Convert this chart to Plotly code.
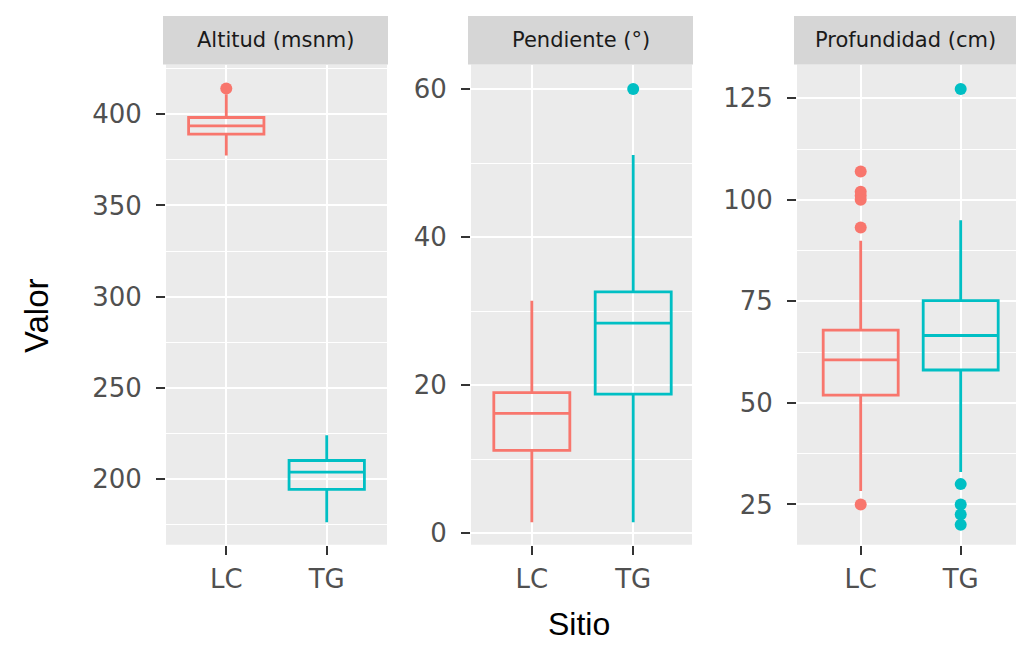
import plotly.graph_objects as go

# Box statistics per facet (LC, TG)
sites = ["LC", "TG"]
colors = ["#F8766D", "#00BFC4"]

facets = ["Altitud (msnm)", "Pendiente (°)", "Profundidad (cm)"]

alt_q1 = [389.1, 194.4]
alt_med = [393.6, 203.8]
alt_q3 = [398.2, 210.2]
alt_lo = [377.4, 176.3]
alt_hi = [410.9, 224.1]
alt_out = [[414.1], []]

pen_q1 = [11.2, 18.8]
pen_med = [16.2, 28.4]
pen_q3 = [19.0, 32.6]
pen_lo = [1.5, 1.5]
pen_hi = [31.4, 51.1]
pen_out = [[], [60.0]]

pro_q1 = [51.9, 58.1]
pro_med = [60.6, 66.6]
pro_q3 = [67.9, 75.2]
pro_lo = [28.3, 33.0]
pro_hi = [89.9, 95.0]
pro_out = [[107.0, 102.0, 101.0, 100.0, 93.2, 25.0], [127.3, 30.0, 25.0, 22.5, 20.0]]

y_ticks = [[200, 250, 300, 350, 400], [0, 20, 40, 60], [25, 50, 75, 100, 125]]
y_ranges = [[164.1, 427.2], [-1.52, 63.3], [15.1, 133.3]]
y_minor = [25, 10, 12.5]

W, H = 1016, 650
panel_x = [(166, 387), (471, 692), (797, 1016)]
x_ranges = [[-0.6, 1.6], [-0.6, 1.58], [-0.637, 1.553]]
panel_top, panel_bot = 65, 548
strip_top = 16

stats = [
    (alt_q1, alt_med, alt_q3, alt_lo, alt_hi, alt_out),
    (pen_q1, pen_med, pen_q3, pen_lo, pen_hi, pen_out),
    (pro_q1, pro_med, pro_q3, pro_lo, pro_hi, pro_out),
]

fig = go.Figure()
tick_font = dict(family="DejaVu Sans", size=26, color="#505050")

for k, (q1, med, q3, lo, hi, out) in enumerate(stats):
    xa = "x" if k == 0 else f"x{k + 1}"
    ya = "y" if k == 0 else f"y{k + 1}"
    for i, s in enumerate(sites):
        fig.add_trace(go.Box(
            x=[s], q1=[q1[i]], median=[med[i]], q3=[q3[i]],
            lowerfence=[lo[i]], upperfence=[hi[i]],
            boxpoints=False, width=0.75, whiskerwidth=0,
            line=dict(color=colors[i], width=2.8),
            fillcolor="rgba(0,0,0,0)",
            xaxis=xa, yaxis=ya, showlegend=False,
        ))
        if out[i]:
            fig.add_trace(go.Scatter(
                x=[s] * len(out[i]), y=out[i], mode="markers",
                marker=dict(color=colors[i], size=12),
                xaxis=xa, yaxis=ya, showlegend=False,
            ))

    x0, x1 = panel_x[k]
    sfx = "" if k == 0 else str(k + 1)
    fig.layout["xaxis" + sfx] = dict(
        domain=[x0 / W, x1 / W], anchor=ya, range=x_ranges[k],
        type="category", categoryorder="array", categoryarray=sites,
        showgrid=True, gridcolor="white", gridwidth=2,
        ticks="outside", ticklen=9, tickwidth=2.2, tickcolor="#333333",
        tickfont=tick_font, ticklabelstandoff=2,
        zeroline=False, showline=False,
    )
    fig.layout["yaxis" + sfx] = dict(
        domain=[1 - panel_bot / H, 1 - panel_top / H], anchor=xa,
        range=y_ranges[k], tickvals=y_ticks[k],
        showgrid=True, gridcolor="white", gridwidth=2,
        minor=dict(dtick=y_minor[k], tick0=0, showgrid=True,
                   gridcolor="white", gridwidth=1.2, ticks=""),
        ticks="outside", ticklen=9, tickwidth=2.2, tickcolor="#333333",
        tickfont=tick_font, ticklabelstandoff=9,
        zeroline=False, showline=False,
    )

    # panel background
    fig.add_shape(type="rect", xref="paper", yref="paper",
                  x0=x0 / W, x1=x1 / W, y0=1 - panel_bot / H, y1=1 - panel_top / H,
                  fillcolor="#ebebeb", line=dict(width=0), layer="below")
    # facet strip
    fig.add_shape(type="rect", xref="paper", yref="paper",
                  x0=(x0 - 3) / W, x1=min(x1 + 1, W) / W,
                  y0=1 - panel_top / H, y1=1 - strip_top / H,
                  fillcolor="#d6d6d6", line=dict(width=0), layer="below")
    fig.add_annotation(text=facets[k], xref="paper", yref="paper",
                       x=((x0 - 3) + min(x1 + 1, W + 6)) / 2 / W,
                       y=1 - (panel_top + strip_top) / 2 / H,
                       showarrow=False, xanchor="center", yanchor="middle",
                       font=dict(family="DejaVu Sans", size=21, color="#1a1a1a"))

fig.add_annotation(text="Valor", xref="paper", yref="paper",
                   x=36 / W, y=1 - 318 / H, textangle=-90, showarrow=False,
                   xanchor="center", yanchor="middle",
                   font=dict(family="Liberation Sans", size=33, color="black"))
fig.add_annotation(text="Sitio", xref="paper", yref="paper",
                   x=579 / W, y=1 - 628 / H, showarrow=False,
                   xanchor="center", yanchor="middle",
                   font=dict(family="Liberation Sans", size=32, color="black"))

fig.update_layout(
    width=W, height=H, margin=dict(l=0, r=0, t=0, b=0),
    paper_bgcolor="white", plot_bgcolor="rgba(0,0,0,0)",
    boxmode="overlay",
)

fig.write_html("out.html")
